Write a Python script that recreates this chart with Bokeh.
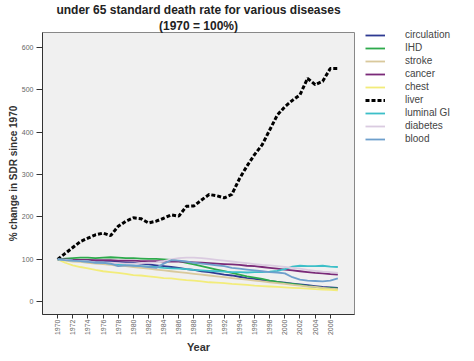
import math
from bokeh.plotting import figure
from bokeh.models import Range1d, Legend, LegendItem, FixedTicker, Title
from bokeh.embed import file_html
from bokeh.resources import INLINE

years = list(range(1970, 2008))

circulation = [100, 99, 98, 98, 97, 96, 96, 95, 94, 93, 92,
               90, 88, 86, 84, 82,
               80, 77, 75, 72, 70,
               67, 64, 62, 59, 56,
               54, 51, 49, 47, 45,
               43, 41, 39, 37, 35,
               34, 33]
ihd = [100, 102, 103, 104, 104, 103, 104, 105, 104, 103, 103,
       102, 101, 101, 100, 99,
       96, 92, 88, 84, 80,
       76, 72, 68, 64, 60,
       57, 54, 50, 47, 44,
       42, 40, 37, 35, 33,
       32, 31]
stroke = [100, 97, 95, 94, 92, 90, 89, 87, 85, 84, 82,
          80, 78, 76, 74, 72,
          70, 68, 66, 64, 62,
          60, 58, 56, 54, 52,
          50, 48, 46, 44, 42,
          40, 38, 36, 35, 33,
          31, 30]
cancer = [100, 100, 99, 99, 99, 98, 98, 98, 97, 97, 97,
          96, 96, 96, 95, 95,
          95, 94, 93, 92, 91,
          90, 89, 88, 87, 85,
          84, 82, 80, 78, 76,
          74, 72, 70, 68, 67,
          65, 64]
chest = [100, 92, 86, 82, 79, 75, 72, 70, 68, 66, 63,
         62, 60, 58, 56, 55,
         53, 51, 50, 48, 46,
         45, 44, 42, 41, 40,
         38, 37, 36, 35, 34,
         33, 32, 31, 30, 29,
         28, 27]
liver = [100, 114, 128, 142, 150, 158, 162, 156, 178, 190, 198,
         196, 186, 190, 197, 205,
         202, 225, 226, 240, 253,
         250, 245, 253, 290, 320,
         347, 370, 405, 440, 460,
         475, 488, 527, 512, 520,
         550, 550]
luminal_gi = [100, 99, 97, 96, 95, 93, 92, 90, 89, 87, 86,
              84, 83, 82, 80, 79,
              78, 77, 75, 74, 73,
              72, 71, 70, 70, 69,
              70, 70, 71, 73, 77,
              83, 85, 84, 84, 85,
              83, 82]
diabetes = [100, 99, 97, 96, 95, 93, 93, 92, 91, 90, 90,
            91, 92, 93, 96, 100,
            103, 104, 104, 103, 101,
            99, 97, 95, 93, 91,
            89, 87, 86, 84, 82,
            80, 78, 75, 73, 71,
            70, 68]
blood = [100, 98, 97, 96, 94, 92, 92, 90, 84, 86, 85,
         84, 82, 80, 90, 98,
         97, 95, 92, 90, 88,
         86, 84, 80, 78, 76,
         74, 72, 70, 69, 67,
         58, 52, 50, 49, 48,
         50, 55]

series_names = ["circulation", "IHD", "stroke", "cancer", "chest", "liver",
                "luminal GI", "diabetes", "blood"]
series_values = [circulation, ihd, stroke, cancer, chest, liver,
                 luminal_gi, diabetes, blood]
series_colors = ["#2E3A92", "#2EAA4C", "#D9C99C", "#7A2A78", "#F2EC7A",
                 "#000000", "#3CBFC8", "#DACBE0", "#6E9FCC"]

x_ticks = list(range(1970, 2007, 2))
y_ticks = [0, 100, 200, 300, 400, 500, 600]

FONT = "Liberation Sans"

p = figure(frame_width=312, frame_height=282, output_backend="svg", toolbar_location=None,
           x_range=Range1d(1968, 2009.2), y_range=Range1d(-30, 635),
           min_border_left=36, min_border_right=106, min_border_top=0,
           min_border_bottom=0)
p.margin = (0, 0, 0, 4)
p.title = None

for txt in ["(1970 = 100%)", "under 65 standard death rate for various diseases"]:
    t = Title(text=txt, align="center", text_font=FONT, text_font_size="12px",
              text_font_style="bold", text_color="#222222", standoff=0,
              text_line_height=0.95)
    p.add_layout(t, "above")

p.background_fill_color = "#F0F0F0"
p.border_fill_color = "white"
p.outline_line_color = "#888888"
p.xgrid.visible = False
p.ygrid.visible = False

items = []
for name, vals, col in zip(series_names, series_values, series_colors):
    if name == "liver":
        r = p.line(years, vals, line_color=col, line_width=3, line_dash="4 2")
    else:
        r = p.line(years, vals, line_color=col, line_width=1.8)
    items.append(LegendItem(label=name, renderers=[r]))

xa = p.xaxis[0]
xa.ticker = FixedTicker(ticks=x_ticks)
xa.major_label_orientation = math.pi / 2
xa.minor_tick_line_color = None
xa.major_tick_in = 0
xa.major_tick_out = 4
xa.axis_line_color = "#333333"
xa.major_tick_line_color = "#333333"
xa.major_label_text_font = FONT
xa.major_label_text_font_size = "7px"
xa.major_label_text_color = "#666666"
xa.major_label_standoff = 1
xa.axis_label = "Year"
xa.axis_label_text_font = FONT
xa.axis_label_text_font_size = "11px"
xa.axis_label_text_font_style = "bold"
xa.axis_label_text_color = "#333333"
xa.axis_label_standoff = 3

ya = p.yaxis[0]
ya.ticker = FixedTicker(ticks=y_ticks)
ya.minor_tick_line_color = None
ya.major_tick_in = 0
ya.major_tick_out = 6
ya.axis_line_color = "#333333"
ya.major_tick_line_color = "#333333"
ya.major_label_text_font = FONT
ya.major_label_text_font_size = "7px"
ya.major_label_text_color = "#666666"
ya.major_label_standoff = 3
ya.axis_label = "% change in SDR since 1970"
ya.axis_label_text_font = FONT
ya.axis_label_text_font_size = "10px"
ya.axis_label_text_font_style = "bold"
ya.axis_label_text_color = "#333333"
ya.axis_label_standoff = 0

legend = Legend(items=items, location=(11, 170))
legend.border_line_alpha = 0
legend.background_fill_alpha = 0
legend.padding = 0
legend.margin = 0
legend.spacing = 2
legend.glyph_width = 20
legend.glyph_height = 10
legend.label_height = 10
legend.label_standoff = 20
legend.label_text_font = FONT
legend.label_text_font_size = "10px"
legend.label_text_color = "#444444"
p.add_layout(legend, "right")

open("out.html", "w").write(file_html(p, INLINE))
